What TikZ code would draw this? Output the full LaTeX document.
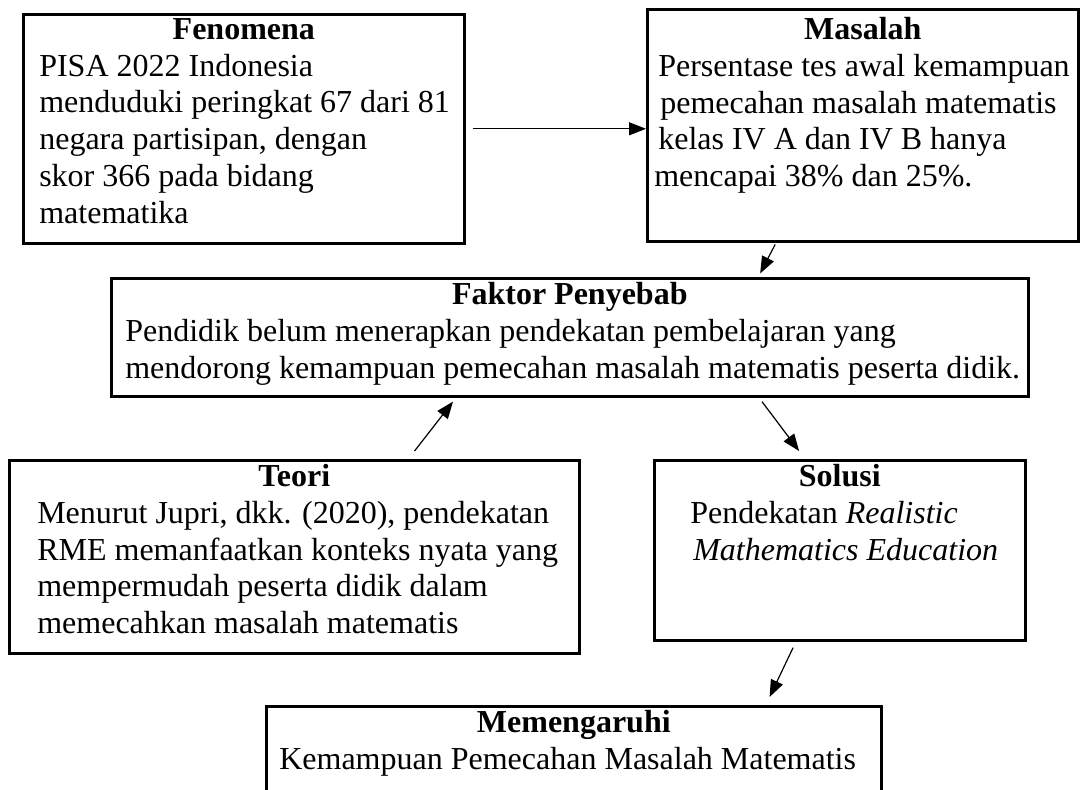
\documentclass[tikz,border=0pt]{standalone}
\usepackage{fontspec}
\setmainfont{Liberation Serif}
\usetikzlibrary{arrows.meta, calc}

% isi kotak: lebar, tinggi, indentasi kiri, teks
\newcommand{\isikotak}[4]{\parbox[t][#2][t]{#1}{\leftskip=#3\relax\rightskip=0pt minus 80pt\relax #4}}
\newcommand{\judul}[1]{\hbox to\hsize{\hss\bfseries #1\hss}}

\begin{document}
\begin{tikzpicture}[x=1pt, y=-1pt,
    kotak/.style={draw, line width=2.6pt, anchor=north west, inner xsep=4pt, inner ysep=4pt,
                  font=\fontsize{32}{36.8}\selectfont},
    panah/.style={-{Triangle[length=17pt,width=13pt]}, line width=1.2pt}]
        \useasboundingbox (0,0) rectangle (1083,789);

        % Fenomena
        \node[kotak] (fen) at (22,13) {\isikotak{433pt}{221pt}{12pt}{\judul{Fenomena}%
            PISA 2022 Indonesia\\
            menduduki peringkat 67 dari 81\\
            negara partisipan, dengan\\
            skor 366 pada bidang\\
            matematika}};

        % Masalah
        \node[kotak, inner ysep=8pt] (mas) at (646,8) {\isikotak{423pt}{216pt}{3pt}{\judul{Masalah}%
            \hspace*{4pt}Persentase tes awal kemampuan\\
            \hspace*{6pt}pemecahan masalah matematis\\
            \hspace*{4pt}kelas IV A dan IV B hanya\\
            mencapai 38\% dan 25\%.}};

        % Faktor penyebab
        \node[kotak] (fak) at (110,277) {\isikotak{909pt}{110pt}{10pt}{\judul{Faktor Penyebab}%
            Pendidik belum menerapkan pendekatan pembelajaran yang\\
            mendorong kemampuan pemecahan masalah matematis peserta didik.}};

        % Teori
        \node[kotak] (teo) at (8,459) {\isikotak{562pt}{185pt}{24pt}{\judul{Teori}%
            Menurut Jupri, dkk. (2020), pendekatan\\
            RME memanfaatkan konteks nyata yang\\
            mempermudah peserta didik dalam\\
            memecahkan masalah matematis}};

        % Solusi
        \node[kotak] (sol) at (653,459) {\isikotak{363pt}{172pt}{32pt}{\judul{Solusi}%
            Pendekatan \textit{Realistic}\\
            \hspace*{3pt}\textit{Mathematics Education}}};

        % Memengaruhi
        \node[kotak] (mem) at (265,705) {\isikotak{607pt}{112pt}{9pt}{\judul{Memengaruhi}%
            Kemampuan Pemecahan Masalah Matematis}};

        % Panah
        \draw[panah] ($(fen.east)+(7,0)$) -- (fen.east -| mas.west);
        \draw[panah, shorten <=2pt, shorten >=4pt] ($(mas.south west)!0.3!(mas.south east)$) -- ($(fak.north west)!0.705!(fak.north east)$);
        \draw[panah] ($(teo.north west)!0.71!(teo.north east)+(0,-8)$) -- ($(fak.south west)!0.373!(fak.south east)+(0,4)$);
        \draw[panah] ($(fak.south west)!0.709!(fak.south east)+(0,4)$) -- ($(sol.north west)!0.391!(sol.north east)+(0,-8)$);
        \draw[panah] ($(sol.south west)!0.375!(sol.south east)+(0,6)$) -- ($(mem.north west)!0.817!(mem.north east)+(0,-8)$);

\end{tikzpicture}
\end{document}
